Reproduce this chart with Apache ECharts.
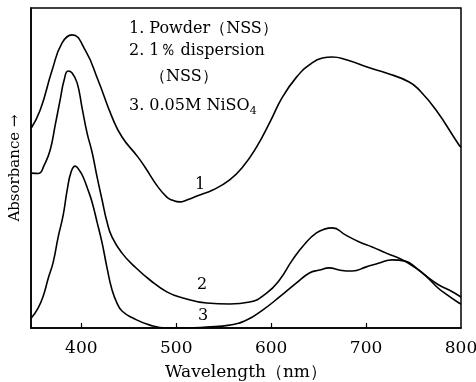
<!DOCTYPE html>
<html>
<head>
<meta charset="utf-8">
<script src="https://cdn.jsdelivr.net/npm/echarts@6/dist/echarts.min.js"></script>
<style>html,body{margin:0;padding:0;background:#fff}#c{width:476px;height:382px}</style>
</head>
<body>
<div id="c"></div>
<script>
// Curve 1: Powder (NSS)
const wl1 = [347.3,356.7,369.3,379.8,390.3,404.0,417.6,432.4,442.9,459.7,467.0,480.7,490.1,495.4,503.8,511.1,524.8,538.4,556.3,570.0,584.7,598.3,612.0,626.7,640.3,654.0,664.5,679.2,703.4,721.2,745.4,755.9,773.7,797.9,800];
const abs1 = [62.5,68.1,80.6,89.1,91.6,86.9,77.5,65.9,59.7,53.4,50.3,44.1,40.9,40.0,39.4,40.0,41.6,43.1,46.3,50.3,56.6,64.1,72.2,78.4,82.2,84.4,84.7,83.8,81.3,79.7,76.9,74.4,68.1,57.2,56.5];
// Curve 2: 1% dispersion (NSS)
const wl2 = [347.3,355.0,361.0,367.2,372.5,377.7,381.9,386.1,390.3,395.6,400.8,406.1,411.3,416.6,421.9,427.1,432.4,442.9,456.5,472.3,490.1,506.9,532.1,556.3,577.3,595.2,608.8,622.5,637.2,647.7,656.1,664.5,678.2,692.9,706.5,721.2,738.0,750.6,763.2,775.8,788.0,800];
const abs2 = [48.4,48.3,51.0,55.6,63.4,71.3,77.5,80.3,79.7,76.6,68.8,60.9,55.0,47.2,40.0,33.1,28.4,23.4,19.1,15.0,11.3,9.4,7.8,7.5,8.1,10.9,15.0,21.3,26.9,29.7,30.9,31.3,29.1,26.9,25.3,23.4,21.3,19.1,16.3,13.6,11.8,9.7];
// Curve 3: 0.05M NiSO4
const wl3 = [347.3,354.6,359.9,365.1,370.4,375.6,380.9,385.1,389.3,393.5,397.7,401.9,407.1,411.3,416.6,421.9,427.1,432.4,437.6,442.9,454.4,472.3,490.1,511.1,532.1,556.3,574.2,591.0,608.8,626.7,640.3,650.8,661.3,671.8,685.5,700.2,713.9,727.5,741.2,752.7,764.3,775.8,784.2,797.9,800];
const abs3 = [3.1,6.3,10.0,15.5,20.6,28.4,35.3,43.1,48.8,50.6,49.4,47.2,43.1,39.4,33.1,26.6,18.8,11.9,7.8,5.3,3.1,0.9,0,0,0.3,0.9,2.5,5.6,9.7,14.1,17.2,18.1,18.8,18.1,17.8,19.1,20.3,21.3,20.9,18.8,15.9,12.5,10.6,7.8,7.5];

const xTickLabels = [400,500,600,700,800];
const xTicks = [400,500,600,700];
const legendLines = ['1. Powder（NSS）','2. 1％ dispersion','（NSS）','3. 0.05M NiSO'];
const curveNames = ['1','2','3'];

const FONT = '"DejaVu Serif","Liberation Serif",serif';
const zip = (a,b) => a.map((v,i)=>[v,b[i]]);

const chart = echarts.init(document.getElementById('c'), null, {renderer:'canvas'});
const lineSeries = (d) => ({
  type:'line', data:d, smooth:0.5, showSymbol:false, symbol:'none',
  lineStyle:{color:'#000', width:1.6}, animation:false, clip:true
});
chart.setOption({
  backgroundColor:'#fff',
  animation:false,
  grid:{left:31,right:15,top:8,bottom:54,outerBoundsMode:'none',containLabel:false,show:true,borderColor:'#000',borderWidth:1.5,backgroundColor:'transparent'},
  xAxis:{
    type:'value', min:347, max:800,
    name:'Wavelength（nm）', nameLocation:'middle', nameGap:36,
    nameTextStyle:{fontFamily:FONT,fontSize:17,color:'#000'},
    axisLine:{show:true,lineStyle:{color:'#000',width:1.5}},
    axisTick:{show:true,inside:true,length:5,customValues:xTicks,lineStyle:{color:'#000',width:1.2}},
    axisLabel:{customValues:xTickLabels,fontFamily:FONT,fontSize:17,color:'#000',margin:12},
    splitLine:{show:false}
  },
  yAxis:{
    type:'value', min:0, max:100,
    name:'Absorbance →', nameLocation:'middle', nameGap:8, nameRotate:90,
    nameTextStyle:{fontFamily:FONT,fontSize:15,color:'#000'},
    axisLine:{show:true,lineStyle:{color:'#000',width:1.5}},
    axisTick:{show:false}, axisLabel:{show:false}, splitLine:{show:false}
  },
  series:[lineSeries(zip(wl1,abs1)), lineSeries(zip(wl2,abs2)), lineSeries(zip(wl3,abs3))],
  graphic:[
    {type:'text',left:129,top:21,style:{text:legendLines[0],font:'16px '+FONT,fill:'#000'}},
    {type:'text',left:129,top:43,style:{text:legendLines[1],font:'16px '+FONT,fill:'#000'}},
    {type:'text',left:150,top:69,style:{text:legendLines[2],font:'16px '+FONT,fill:'#000'}},
    {type:'text',left:129,top:98,style:{
      rich:{s:{fontSize:11,fontFamily:FONT,padding:[11,0,0,0]}},
      text:legendLines[3]+'{s|4}', font:'16px '+FONT, fill:'#000'}},
    {type:'text',left:195,top:177,style:{text:curveNames[0],font:'16px '+FONT,fill:'#000'}},
    {type:'text',left:197,top:277,style:{text:curveNames[1],font:'16px '+FONT,fill:'#000'}},
    {type:'text',left:198,top:308,style:{text:curveNames[2],font:'16px '+FONT,fill:'#000'}}
  ]
});
</script>
</body>
</html>
